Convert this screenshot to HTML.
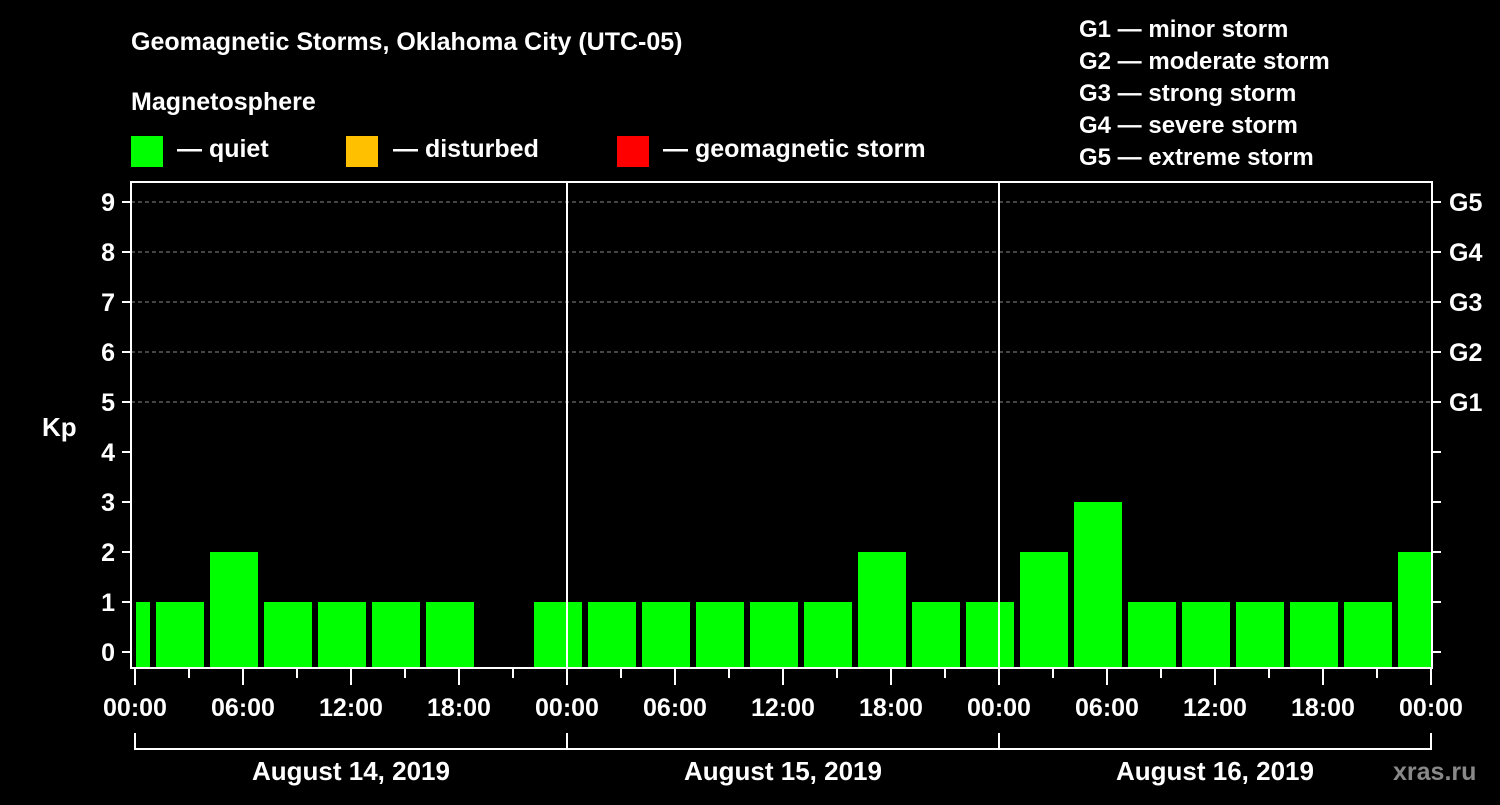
<!DOCTYPE html>
<html><head><meta charset="utf-8"><style>
html,body{margin:0;padding:0;background:#000;}
svg text{font-family:"Liberation Sans",Arial,sans-serif;font-weight:bold;fill:#fff;}
</style></head><body>
<svg id="chart" width="1500" height="800" viewBox="0 0 1500 800" xmlns="http://www.w3.org/2000/svg">
<text x="131" y="50" font-size="25">Geomagnetic Storms, Oklahoma City (UTC-05)</text>
<text x="131" y="110" font-size="25">Magnetosphere</text>
<g><rect x="131" y="136" width="32" height="31" fill="#00ff00"/><text x="177" y="157" font-size="25">— quiet</text></g>
<g><rect x="346" y="136" width="32" height="31" fill="#ffc000"/><text x="393" y="157" font-size="25">— disturbed</text></g>
<g><rect x="617" y="136" width="32" height="31" fill="#ff0000"/><text x="663" y="157" font-size="25">— geomagnetic storm</text></g>
<g font-size="24">
<text x="1079" y="37">G1 — minor storm</text>
<text x="1079" y="69">G2 — moderate storm</text>
<text x="1079" y="101">G3 — strong storm</text>
<text x="1079" y="133">G4 — severe storm</text>
<text x="1079" y="165">G5 — extreme storm</text>
</g>
<g id="grid"></g>
<g id="bars"></g>
<g id="axes" stroke="#fff" stroke-width="2" fill="none"></g>
<g id="labels"></g>
<text x="42" y="436" font-size="26">Kp</text>
<text x="1393" y="780" font-size="25" style="fill:#888">xras.ru</text>
</svg>
<script>
const kpValues=[1,1,2,1,1,1,1,null,1,1,1,1,1,1,2,1,1,2,3,1,1,1,1,1,2];
const slotStartHours=[-2,1,4,7,10,13,16,19,22,25,28,31,34,37,40,43,46,49,52,55,58,61,64,67,70];
const yTicks=[0,1,2,3,4,5,6,7,8,9];
const gLabels=["G1","G2","G3","G4","G5"];
const xTickLabels=["00:00","06:00","12:00","18:00","00:00","06:00","12:00","18:00","00:00","06:00","12:00","18:00","00:00"];
const dayLabels=["August 14, 2019","August 15, 2019","August 16, 2019"];
const NS="http://www.w3.org/2000/svg";
const X0=135,PXH=18,L=131,R=1432,TOP=182,BOT=668;
const x=h=>X0+h*PXH, y=v=>652-50*v;
function mk(tag,attrs,parent,txt){const e=document.createElementNS(NS,tag);for(const k in attrs)e.setAttribute(k,attrs[k]);if(txt!=null)e.textContent=txt;document.getElementById(parent).appendChild(e);return e;}
// grid
for(let v=5;v<=9;v++){const l=mk('line',{x1:L,x2:R,y1:y(v),y2:y(v),stroke:'#888','stroke-dasharray':'4,3','stroke-width':1},'grid');

}
// bars
slotStartHours.forEach((h,i)=>{const v=kpValues[i];if(v==null)return;
let a=Math.max(x(h)+3,x(0)+1),b=Math.min(x(h+3)-3,x(72));
const r=mk('rect',{x:a,y:y(v),width:b-a,height:BOT-y(v),fill:v>=5?'#ff0000':(v>=4?'#ffc000':'#00ff00')},'bars');

});
// axes
const ax='axes';
mk('rect',{x:L,y:TOP,width:R-L,height:BOT-TOP},ax);
[24,48].forEach(h=>{const l=mk('line',{x1:x(h),x2:x(h),y1:TOP,y2:BOT},ax);

});
yTicks.forEach(v=>{mk('line',{x1:122,x2:L,y1:y(v),y2:y(v)},ax);mk('line',{x1:R,x2:1441,y1:y(v),y2:y(v)},ax);
const t=mk('text',{x:115,y:y(v)+9,'font-size':25,'text-anchor':'end'},'labels',String(v));

});
gLabels.forEach((g,i)=>{const t=mk('text',{x:1449,y:y(5+i)+9,'font-size':25},'labels',g);

});
for(let h=0;h<=72;h+=3){mk('line',{x1:x(h),x2:x(h),y1:BOT,y2:h%6===0?685:678},ax);}
xTickLabels.forEach((s,i)=>{const t=mk('text',{x:x(i*6),y:716,'font-size':25,'text-anchor':'middle'},'labels',s);

});
mk('path',{d:`M${x(0)} 733V749H${x(72)}V733M${x(24)} 733V749M${x(48)} 733V749`},ax);
dayLabels.forEach((s,i)=>{const t=mk('text',{x:x(i*24+12),y:780,'font-size':26,'text-anchor':'middle'},'labels',s);

});
</script>
</body></html>
